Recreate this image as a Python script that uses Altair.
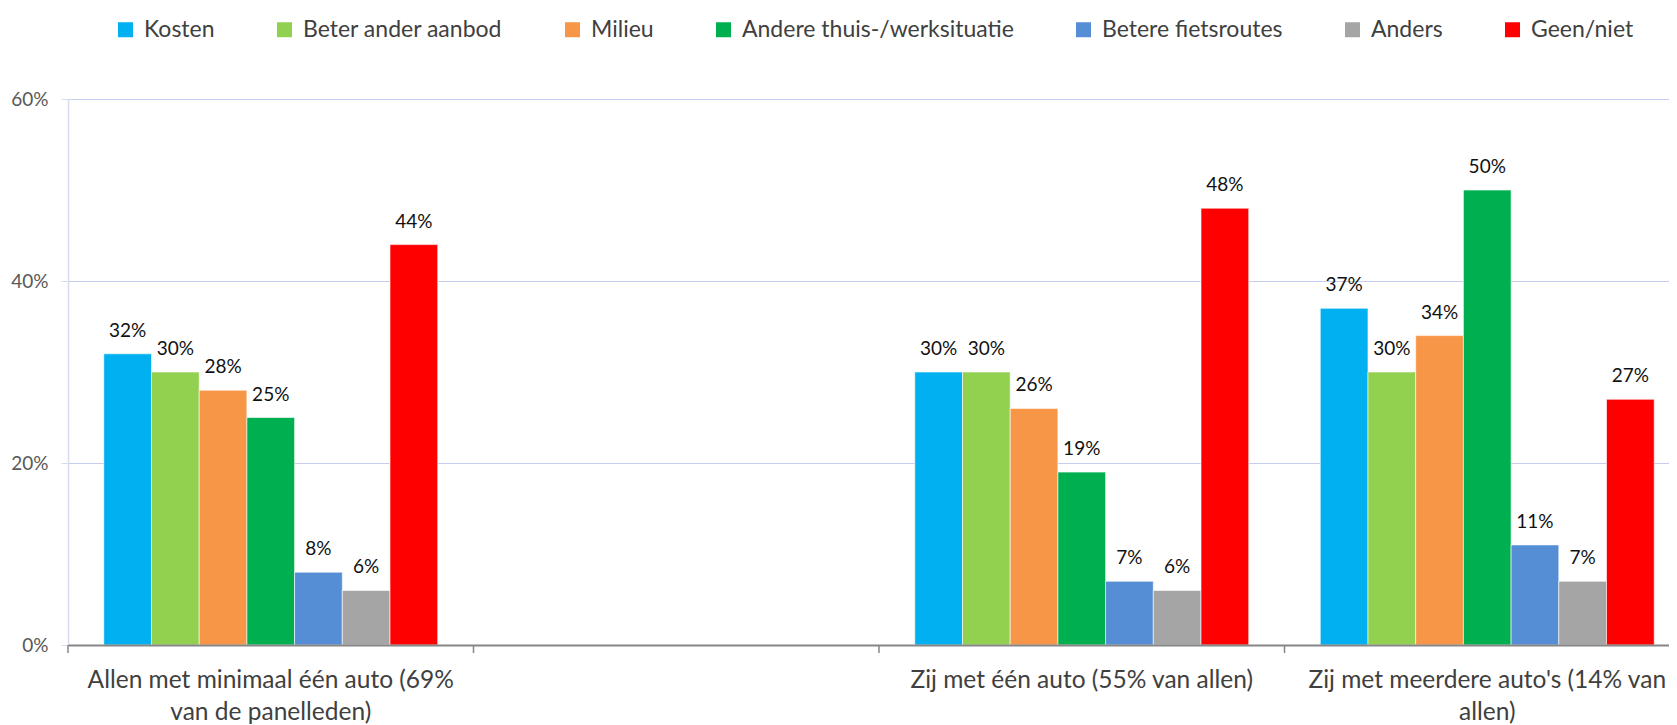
import altair as alt
import pandas as pd

groups = [
    "Allen met minimaal één auto (69%|van de panelleden)",
    " ",
    "Zij met één auto (55% van allen)",
    "Zij met meerdere auto's (14% van|allen)",
]
reasons = [
    "Kosten",
    "Beter ander aanbod",
    "Milieu",
    "Andere thuis-/werksituatie",
    "Betere fietsroutes",
    "Anders",
    "Geen/niet",
]
colors = ["#00B0F0", "#92D050", "#F79646", "#00B050", "#558ED5", "#A5A5A5", "#FF0000"]

vals_allen = [0.32, 0.30, 0.28, 0.25, 0.08, 0.06, 0.44]
vals_een = [0.30, 0.30, 0.26, 0.19, 0.07, 0.06, 0.48]
vals_meer = [0.37, 0.30, 0.34, 0.50, 0.11, 0.07, 0.27]

rows = []
for g, vals in [(groups[0], vals_allen), (groups[2], vals_een), (groups[3], vals_meer)]:
    for r, v in zip(reasons, vals):
        rows.append({"groep": g, "reden": r, "waarde": v})
df = pd.DataFrame(rows)

FONT = "Lato"

x_scale = alt.Scale(domain=groups, range=[0, 1622], paddingInner=0, paddingOuter=0)
xoff_scale = alt.Scale(domain=reasons, paddingInner=0, paddingOuter=0.75)
y_scale = alt.Scale(domain=[0, 0.6], nice=False)

x_axis = alt.Axis(
    title=None,
    ticks=False,
    grid=False,
    domainColor="#868686",
    domainWidth=2,
    labelAngle=0,
    labelFont=FONT,
    labelFontSize=24.5,
    labelColor="#404040",
    labelBaseline="top",
    labelPadding=23,
    labelLineHeight=32,
    labelLimit=1000,
    labelExpr="split(datum.value, '|')",
    zindex=1,
)
y_axis = alt.Axis(
    title=None,
    values=[0, 0.2, 0.4, 0.6],
    format=".0%",
    domainColor="#d6dcec",
    domainWidth=1.5,
    tickColor="#d6dcec",
    tickSize=7,
    gridColor="#c7cdee",
    gridWidth=1.2,
    labelFont=FONT,
    labelFontSize=19,
    labelColor="#595959",
    labelPadding=13,
)

base = alt.Chart(df).encode(
    x=alt.X("groep:N", scale=x_scale, axis=x_axis, sort=groups),
    xOffset=alt.XOffset("reden:N", scale=xoff_scale, sort=reasons),
    y=alt.Y("waarde:Q", scale=y_scale, axis=y_axis),
)

bars = base.mark_bar(stroke="white", strokeWidth=0.6).encode(
    color=alt.Color(
        "reden:N",
        scale=alt.Scale(domain=reasons, range=colors),
        sort=reasons,
        legend=alt.Legend(
            title=None,
            orient="none",
            legendX=46,
            legendY=-81,
            direction="horizontal",
            columns=7,
            symbolType="square",
            symbolSize=225,
            symbolStrokeWidth=0,
            labelFont=FONT,
            labelFontSize=23,
            labelColor="#404040",
            labelOffset=7,
            columnPadding=58,
            labelLimit=0,
        ),
    )
)

labels = base.mark_text(
    baseline="alphabetic", dy=-17, font=FONT, fontSize=19, color="#111111"
).encode(text=alt.Text("waarde:Q", format=".0%"))

tick_df = pd.DataFrame({"groep": groups})
ticks = alt.Chart(tick_df).mark_rule(color="#868686", strokeWidth=1.5).encode(
    x=alt.X("groep:N", bandPosition=0, axis=x_axis, scale=x_scale, sort=groups),
    y=alt.value(546),
    y2=alt.value(554),
)

chart = (
    alt.layer(bars, labels, ticks)
    .properties(
        width=1601,
        height=546,
        padding={"left": 60, "top": 91, "right": 0, "bottom": 80},
        autosize=alt.AutoSizeParams(type="none"),
    )
    .configure(font=FONT)
    .configure_view(stroke=None)
)

chart.save("out.html", embed_options={"renderer": "svg", "actions": False})
